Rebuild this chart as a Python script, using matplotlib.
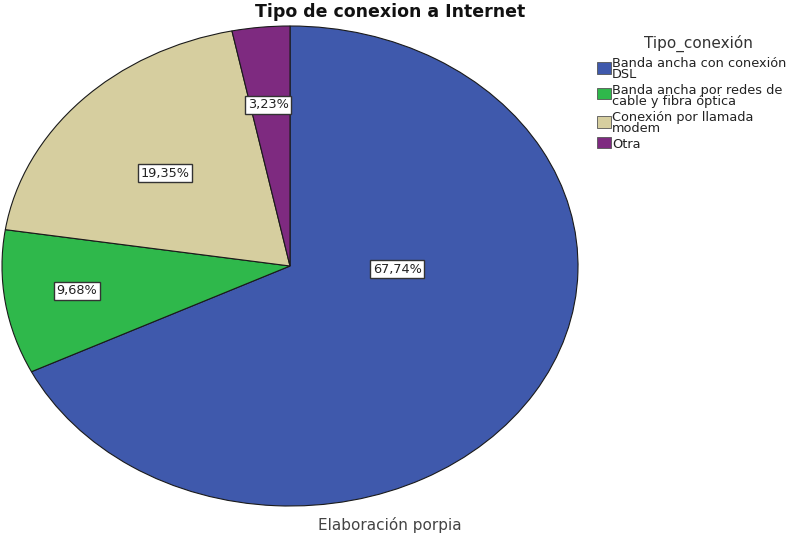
import matplotlib
matplotlib.use("Agg")
import matplotlib.pyplot as plt
from matplotlib.patches import Rectangle

categories = [
    "Banda ancha con conexión\nDSL",
    "Banda ancha por redes de\ncable y fibra óptica",
    "Conexión por llamada\nmodem",
    "Otra",
]
percentages = [67.74, 9.68, 19.35, 3.23]
colors = ["#3F59AC", "#2FB84B", "#D6CE9F", "#7E2A80"]
# label anchor points inside the unit pie (x, y)
label_pos = [(0.372, -0.0125), (-0.740, -0.104), (-0.434, 0.3875), (-0.076, 0.671)]

W, H = 789, 537
plt.rcParams["font.family"] = ["DejaVu Sans"]
fig = plt.figure(figsize=(W / 100, H / 100), dpi=100)

# elliptical pie: axes stretched wider than tall
cx, cy, rx, ry = 290, 266, 288, 240
ax = fig.add_axes([(cx - rx) / W, (H - cy - ry) / H, 2 * rx / W, 2 * ry / H])
wedges, _ = ax.pie(percentages, colors=colors, startangle=90, counterclock=False,
                   radius=1.0, wedgeprops=dict(edgecolor="#1a1a1a", linewidth=0.8))
ax.set_xlim(-1.0, 1.0)
ax.set_ylim(-1.0, 1.0)
ax.set_aspect("auto")
ax.axis("off")

for p, (x, y) in zip(percentages, label_pos):
    txt = f"{p:.2f}%".replace(".", ",")
    ax.text(x, y, txt, ha="center", va="center", fontsize=9.3, color="#222222",
            bbox=dict(boxstyle="square,pad=0.22", facecolor="white", edgecolor="#333333", linewidth=1.0))

fig.text(390 / W, 1 - 12 / H, "Tipo de conexion a Internet", ha="center", va="center",
         fontsize=12.5, fontweight="bold", color="#111111")
fig.text(390 / W, 1 - 525 / H, "Elaboración porpia", ha="center", va="center",
         fontsize=11, color="#444444")

# legend
fig.text(698 / W, 1 - 43 / H, "Tipo_conexión", ha="center", va="center", fontsize=11, color="#333333")
square_y = [68, 94, 122, 142]
text_top = [57, 84, 111, 138]
for col, lab, sy, ty in zip(colors, categories, square_y, text_top):
    fig.patches.append(Rectangle((597 / W, 1 - (sy + 5.5) / H), 14 / W, 11 / H,
                                 transform=fig.transFigure, facecolor=col,
                                 edgecolor="#555555", linewidth=0.6))
    fig.text(612 / W, 1 - ty / H, lab, ha="left", va="top", fontsize=9.3,
             color="#222222", linespacing=0.8)

fig.savefig("out.png", dpi=100, facecolor="white")
